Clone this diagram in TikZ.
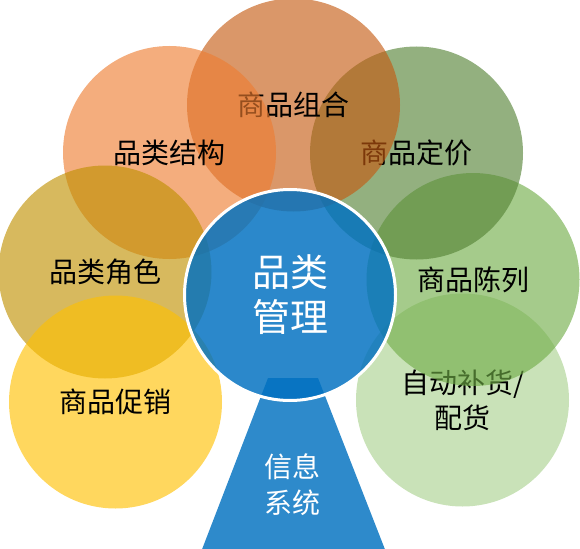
\documentclass[tikz,border=0pt]{standalone}
\usepackage{fontspec}
\newfontfamily\cjkfont{Noto Sans CJK SC}
\usepackage{tikz}
\usetikzlibrary{shapes}
\definecolor{orangeDark}{RGB}{197,90,17}
\definecolor{orangeMain}{RGB}{237,125,49}
\definecolor{greenDark}{RGB}{84,130,53}
\definecolor{greenMain}{RGB}{112,173,71}
\definecolor{greenLight}{RGB}{169,209,142}
\definecolor{goldDark}{RGB}{191,144,0}
\definecolor{goldMain}{RGB}{255,192,0}
\definecolor{blueMain}{RGB}{0,112,192}
\tikzset{
petal/.style={circle, minimum size=213pt, inner sep=0pt, fill opacity=0.63, text opacity=1, align=center, font=\cjkfont\fontsize{28}{35}\selectfont}, % the outer circles
core/.style={circle, minimum size=211pt, inner sep=0pt, fill=blueMain, fill opacity=0.83, draw=white, line width=3pt, text=white, text opacity=1, align=center, font=\cjkfont\fontsize{38}{45}\selectfont}, % the circle in the middle
base/.style={fill=blueMain, fill opacity=0.82}, % the foot below it
baselabel/.style={text=white, align=center, font=\cjkfont\fontsize{28}{36}\selectfont} % the text on the foot
}

\begin{document}
\begin{tikzpicture}[x=1pt,y=1pt]
        \useasboundingbox (0,0) rectangle (580,-548);
        \fill [base] (268,-378) -- (318,-378) -- (386,-552) -- (201,-552) -- cycle;
        \node [baselabel] (infosys) at (292,-485) {信息\\系统};
        \node [petal, fill=greenLight] (replen) at (462.5,-400) {自动补货/\\配货};
        \node [petal, fill=greenMain] (display) at (473,-279.5) {商品陈列};
        \node [petal, fill=greenDark] (pricing) at (416.5,-153) {商品定价};
        \node [petal, fill=orangeDark] (mix) at (293.5,-105) {商品组合};
        \node [petal, fill=orangeMain] (structure) at (169.5,-152.5) {品类结构};
        \node [petal, fill=goldDark] (role) at (105,-272) {品类角色};
        \node [petal, fill=goldMain] (promo) at (115.5,-402) {商品促销};
        \node [core] (catman) at (290,-295) {品类\\管理};
\end{tikzpicture}
\end{document}
